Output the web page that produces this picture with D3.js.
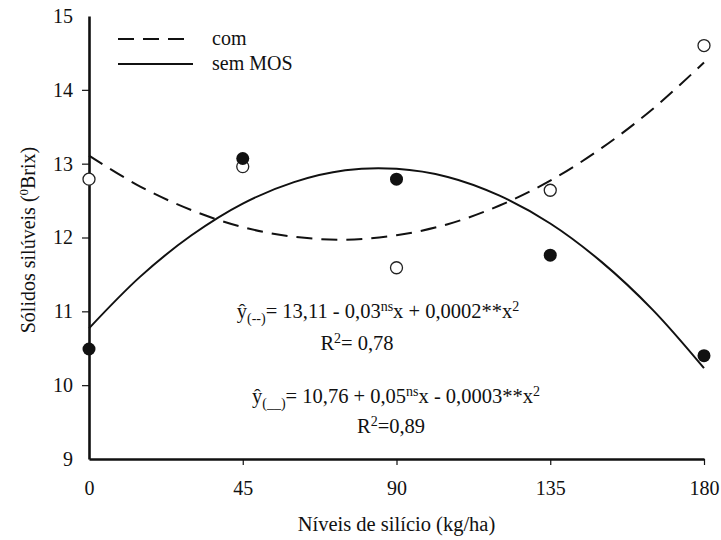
<!DOCTYPE html>
<html><head><meta charset="utf-8">
<script src="https://cdn.jsdelivr.net/npm/d3@7"></script>
<style>body{margin:0;background:#fff}svg{display:block}
svg text{font-family:"Liberation Serif",Tinos,"Times New Roman",Times,"DejaVu Serif",serif !important;fill:#111}</style>
</head><body><svg id="c" width="721" height="540"></svg>
<script>
const xTicks = [0, 45, 90, 135, 180];
const yTicks = [9, 10, 11, 12, 13, 14, 15];
const levels = [0, 45, 90, 135, 180];
const comValues = [12.79, 12.96, 11.59, 12.64, 14.60];   // open circles
const semValues = [10.49, 13.07, 12.79, 11.76, 10.40];   // filled circles
const curveX   = [0, 15, 30, 45, 60, 75, 90, 105, 120, 135, 150, 165, 180];
const comCurve = [13.11, 12.69, 12.37, 12.14, 12.01, 11.97, 12.03, 12.18, 12.43, 12.77, 13.21, 13.74, 14.37];
const semCurve = [10.77, 11.47, 12.03, 12.46, 12.75, 12.91, 12.93, 12.82, 12.57, 12.19, 11.67, 11.02, 10.23];
const legendLabels = ["com", "sem MOS"];

const FONT = '"Liberation Serif", Tinos, "Times New Roman", Times, "DejaVu Serif", serif';
const svg = d3.select("#c");
const x = d3.scaleLinear().domain([0, 180]).range([89, 704]);
const y = d3.scaleLinear().domain([9, 15]).range([459, 16]);

// curves
const line = d3.line().x(d => x(d[0])).y(d => y(d[1])).curve(d3.curveCatmullRom);
svg.append("path").datum(curveX.map((v, i) => [v, comCurve[i]]))
  .attr("d", line).attr("fill", "none").attr("stroke", "#111").attr("stroke-width", 2)
  .attr("stroke-dasharray", "16,9");
svg.append("path").datum(curveX.map((v, i) => [v, semCurve[i]]))
  .attr("d", line).attr("fill", "none").attr("stroke", "#111").attr("stroke-width", 2);

// axes
const xAxis = svg.append("g").attr("transform", `translate(0,${y(9)})`)
  .call(d3.axisBottom(x).tickValues(xTicks).tickFormat(d3.format("d")).tickSize(6).tickPadding(16).tickSizeOuter(0));
const yAxis = svg.append("g").attr("transform", `translate(${x(0)},0)`)
  .call(d3.axisLeft(y).tickValues(yTicks).tickFormat(d3.format("d")).tickSize(7).tickPadding(9).tickSizeOuter(0));
[xAxis, yAxis].forEach(g => {
  g.attr("font-family", FONT).attr("font-size", 20);
  g.select(".domain").attr("stroke", "#111").attr("stroke-width", 2.6);
  g.selectAll(".tick line").attr("stroke", "#111").attr("stroke-width", 1.2);
  g.selectAll(".tick text").attr("fill", "#111");
});
yAxis.selectAll(".tick line").filter(d => d === 9 || d === 15).remove();
xAxis.selectAll(".tick line").filter(d => d === 0).remove();

// points
svg.append("g").selectAll("circle").data(levels).join("circle")
  .attr("cx", d => x(d)).attr("cy", (d, i) => y(comValues[i])).attr("r", 6)
  .attr("fill", "#fff").attr("stroke", "#222").attr("stroke-width", 1.3);
svg.append("g").selectAll("circle").data(levels).join("circle")
  .attr("cx", d => x(d)).attr("cy", (d, i) => y(semValues[i])).attr("r", 6.5)
  .attr("fill", "#111");

// legend
const leg = svg.append("g").attr("font-family", FONT);
leg.append("line").attr("x1", 118).attr("x2", 190).attr("y1", 39).attr("y2", 39)
  .attr("stroke", "#111").attr("stroke-width", 2).attr("stroke-dasharray", "16,9");
leg.append("line").attr("x1", 118).attr("x2", 193).attr("y1", 64).attr("y2", 64)
  .attr("stroke", "#111").attr("stroke-width", 2);
leg.selectAll("text").data(legendLabels).join("text")
  .attr("x", 212).attr("y", (d, i) => 45 + i * 25).attr("font-size", 20).text(d => d);

// equations
function eq(cx, by, parts) {
  const t = svg.append("text").attr("x", cx).attr("y", by).attr("text-anchor", "middle")
    .attr("font-size", 20.5).attr("font-family", FONT);
  parts.forEach(p => {
    const s = t.append("tspan").text(p[0]);
    if (p[1] === "sub") s.attr("baseline-shift", "-35%").attr("font-size", 14);
    if (p[1] === "sup") s.attr("baseline-shift", "super").attr("font-size", 14);
  });
}
eq(378, 318, [["ŷ"], ["(--)", "sub"], ["= 13,11 - 0,03"], ["ns", "sup"], ["x + 0,0002**x"], ["2", "sup"]]);
eq(357, 350, [["R"], ["2", "sup"], ["= 0,78"]]);
eq(396, 403, [["ŷ"], ["(__)", "sub"], ["= 10,76 + 0,05"], ["ns", "sup"], ["x - 0,0003**x"], ["2", "sup"]]);
eq(391, 433, [["R"], ["2", "sup"], ["=0,89"]]);

// axis titles
svg.append("text").attr("x", x(90)).attr("y", 531).attr("text-anchor", "middle")
  .attr("font-size", 20.5).attr("font-family", FONT).text("Níveis de silício (kg/ha)");
const yt = svg.append("text").attr("transform", "translate(35,240) rotate(-90)")
  .attr("text-anchor", "middle").attr("font-size", 20).attr("font-family", FONT);
yt.append("tspan").text("Sólidos silúveis (");
yt.append("tspan").text("0").attr("baseline-shift", "super").attr("font-size", 13);
yt.append("tspan").text("Brix)");
</script></body></html>
